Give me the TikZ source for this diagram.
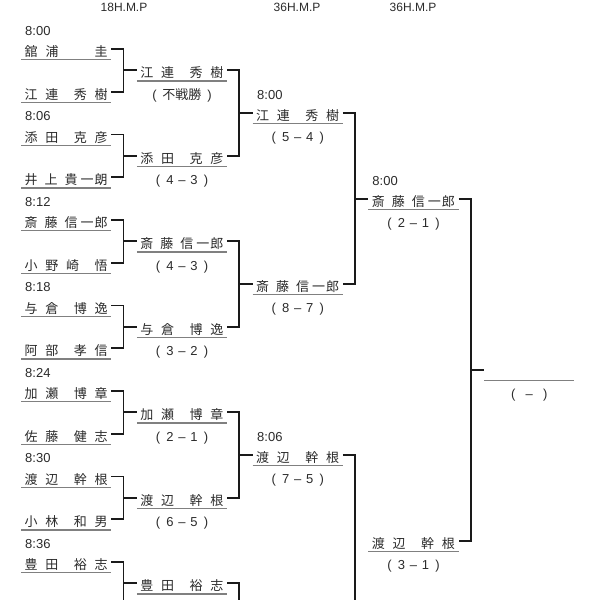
\documentclass[tikz,border=0pt]{standalone}
\usepackage{fontspec}
\setmainfont{Liberation Sans}
\newfontfamily\jp{Noto Sans CJK JP}
\usetikzlibrary{calc}
\definecolor{txt}{HTML}{2B2B2B}
\definecolor{uln}{HTML}{808080}
\definecolor{cn}{HTML}{1A1A1A}
% name layouts
\newcommand\nmA[4]{\hbox to 83pt{\jp #1\hfil #2\hfil\hfil #3\hfil #4}}% 2+2
\newcommand\nmB[4]{\hbox to 83pt{\jp #1\hfil #2\hfil #3\hfil\hfil #4}}% 3+1
\newcommand\nmC[5]{\hbox to 83pt{\jp #1\hskip7pt #2\hskip7pt #3\hskip3pt #4\hskip1pt #5}}% 5
\newcommand\nmD[3]{\hbox to 83pt{\jp #1\hskip8pt #2\hfil #3}}% 2+1
\newcommand\scr[2]{\makebox[12pt]{(}\makebox[12pt]{#1}\makebox[12pt]{–}\makebox[12pt]{#2}\makebox[12pt]{)}}
\begin{document}
\begin{tikzpicture}[x=1pt,y=-1pt,
  entry/.style={anchor=west, minimum width=90pt, text height=18pt, text depth=3pt, inner sep=0pt, text=txt, font=\jp\fontsize{13pt}{13pt}\selectfont},
  uline/.style={draw=uln, line width=1.3pt},
  conn/.style={draw=cn, line width=1.8pt},
  tm/.style={anchor=west, inner sep=0pt, text=txt, font=\fontsize{13pt}{13pt}\selectfont},
  scorenode/.style={inner sep=0pt, text=txt, font=\fontsize{13pt}{13pt}\selectfont},
  hdr/.style={inner sep=0pt, text=txt, font=\fontsize{12pt}{12pt}\selectfont},
]
\useasboundingbox (0,0) rectangle (600,600);
\clip (0,0) rectangle (600,600);
\fill[white] (0,0) rectangle (600,600);

% headers
\node[hdr] (h1) at (124,7.5) {18H.M.P};
\node[hdr] (h2) at (297,7.5) {36H.M.P};
\node[hdr] (h3) at (413,7.5) {36H.M.P};

% round 1
\node[entry] (r1-0)  at (21,49)     {\nmD{舘}{浦}{圭}};
\node[entry] (r1-1)  at (21,91.75)  {\nmA{江}{連}{秀}{樹}};
\node[entry] (r1-2)  at (21,134.5)  {\nmA{添}{田}{克}{彦}};
\node[entry] (r1-3)  at (21,177.25) {\nmC{井}{上}{貴}{一}{朗}};
\node[entry] (r1-4)  at (21,220)    {\nmC{斎}{藤}{信}{一}{郎}};
\node[entry] (r1-5)  at (21,262.75) {\nmB{小}{野}{崎}{悟}};
\node[entry] (r1-6)  at (21,305.5)  {\nmA{与}{倉}{博}{逸}};
\node[entry] (r1-7)  at (21,348.25) {\nmA{阿}{部}{孝}{信}};
\node[entry] (r1-8)  at (21,391)    {\nmA{加}{瀬}{博}{章}};
\node[entry] (r1-9)  at (21,433.75) {\nmA{佐}{藤}{健}{志}};
\node[entry] (r1-10) at (21,476.5)  {\nmA{渡}{辺}{幹}{根}};
\node[entry] (r1-11) at (21,519.25) {\nmA{小}{林}{和}{男}};
\node[entry] (r1-12) at (21,562)    {\nmA{豊}{田}{裕}{志}};

% round 2
\node[entry] (r2-0) at (136.75,70.375)  {\nmA{江}{連}{秀}{樹}};
\node[entry] (r2-1) at (136.75,155.875) {\nmA{添}{田}{克}{彦}};
\node[entry] (r2-2) at (136.75,241.375) {\nmC{斎}{藤}{信}{一}{郎}};
\node[entry] (r2-3) at (136.75,326.875) {\nmA{与}{倉}{博}{逸}};
\node[entry] (r2-4) at (136.75,412.375) {\nmA{加}{瀬}{博}{章}};
\node[entry] (r2-5) at (136.75,497.875) {\nmA{渡}{辺}{幹}{根}};
\node[entry] (r2-6) at (136.75,583.375) {\nmA{豊}{田}{裕}{志}};

% round 3
\node[entry] (r3-0) at (252.5,113.125) {\nmA{江}{連}{秀}{樹}};
\node[entry] (r3-1) at (252.5,284.125) {\nmC{斎}{藤}{信}{一}{郎}};
\node[entry] (r3-2) at (252.5,455.125) {\nmA{渡}{辺}{幹}{根}};

% round 4
\node[entry] (r4-0) at (368.25,198.625) {\nmC{斎}{藤}{信}{一}{郎}};
\node[entry] (r4-1) at (368.25,540.625) {\nmA{渡}{辺}{幹}{根}};

% final
\node[entry] (r5) at (484,369.625) {};

% underlines
\foreach \n in {r1-0,r1-1,r1-2,r1-3,r1-4,r1-5,r1-6,r1-7,r1-8,r1-9,r1-10,r1-11,r1-12,
  r2-0,r2-1,r2-2,r2-3,r2-4,r2-5,r2-6,r3-0,r3-1,r3-2,r4-0,r4-1,r5}
  \draw[uline] (\n.south west) -- (\n.south east);

% times
\node[tm] (t1-0) at ($(r1-0.west)+(4pt,18pt)$)  {8:00};
\node[tm] (t1-1) at ($(r1-2.west)+(4pt,18pt)$)  {8:06};
\node[tm] (t1-2) at ($(r1-4.west)+(4pt,18pt)$)  {8:12};
\node[tm] (t1-3) at ($(r1-6.west)+(4pt,18pt)$)  {8:18};
\node[tm] (t1-4) at ($(r1-8.west)+(4pt,18pt)$)  {8:24};
\node[tm] (t1-5) at ($(r1-10.west)+(4pt,18pt)$) {8:30};
\node[tm] (t1-6) at ($(r1-12.west)+(4pt,18pt)$) {8:36};
\node[tm] (t3-0) at ($(r3-0.west)+(4.5pt,18pt)$) {8:00};
\node[tm] (t3-2) at ($(r3-2.west)+(4.5pt,18pt)$) {8:06};
\node[tm] (t4-0) at ($(r4-0.west)+(4pt,18pt)$) {8:00};

% scores
\node[scorenode] (s2-0) at ($(r2-0.center)+(0,-25.5pt)$) {\makebox[10pt]{(}\hskip3pt{\jp 不戦勝}\hskip3pt\makebox[10pt]{)}};
\node[scorenode] (s2-1) at ($(r2-1.center)+(0,-25.5pt)$) {\scr{4}{3}};
\node[scorenode] (s2-2) at ($(r2-2.center)+(0,-25.5pt)$) {\scr{4}{3}};
\node[scorenode] (s2-3) at ($(r2-3.center)+(0,-25.5pt)$) {\scr{3}{2}};
\node[scorenode] (s2-4) at ($(r2-4.center)+(0,-25.5pt)$) {\scr{2}{1}};
\node[scorenode] (s2-5) at ($(r2-5.center)+(0,-25.5pt)$) {\scr{6}{5}};
\node[scorenode] (s3-0) at ($(r3-0.center)+(0,-25.5pt)$) {\scr{5}{4}};
\node[scorenode] (s3-1) at ($(r3-1.center)+(0,-25.5pt)$) {\scr{8}{7}};
\node[scorenode] (s3-2) at ($(r3-2.center)+(0,-25.5pt)$) {\scr{7}{5}};
\node[scorenode] (s4-0) at ($(r4-0.center)+(0,-25.5pt)$) {\scr{2}{1}};
\node[scorenode] (s4-1) at ($(r4-1.center)+(0,-25.5pt)$) {\scr{3}{1}};
\node[scorenode] (s5)   at ($(r5.center)+(0,-25.5pt)$) {\makebox[16pt]{(}\makebox[16pt]{–}\makebox[16pt]{)}};

% connectors
\foreach \a/\b/\n in {r1-0/r1-1/r2-0, r1-2/r1-3/r2-1, r1-4/r1-5/r2-2, r1-6/r1-7/r2-3,
  r1-8/r1-9/r2-4, r1-10/r1-11/r2-5, r2-0/r2-1/r3-0, r2-2/r2-3/r3-1, r2-4/r2-5/r3-2,
  r3-0/r3-1/r4-0, r4-0/r4-1/r5}{
  \coordinate (j-\n) at ($(\n.west)+(-13.25pt,0)$);
  \draw[conn] (\a.east) -| (j-\n) |- (\b.east);
  \draw[conn] (j-\n) -- (\n.west);
}
% connectors running off the bottom edge
\coordinate (j-r2-6) at ($(r2-6.west)+(-13.25pt,0)$);
\draw[conn] (j-r2-6) -- (r2-6.west);
\coordinate (e1-12) at (123.5,610);
\coordinate (e2-6) at (239.25,610);
\coordinate (e3-2) at (355,610);
\draw[conn] (r1-12.east) -| (e1-12);
\draw[conn] (r2-6.east) -| (e2-6);
\draw[conn] (r3-2.east) -| (e3-2);
\end{tikzpicture}
\end{document}
